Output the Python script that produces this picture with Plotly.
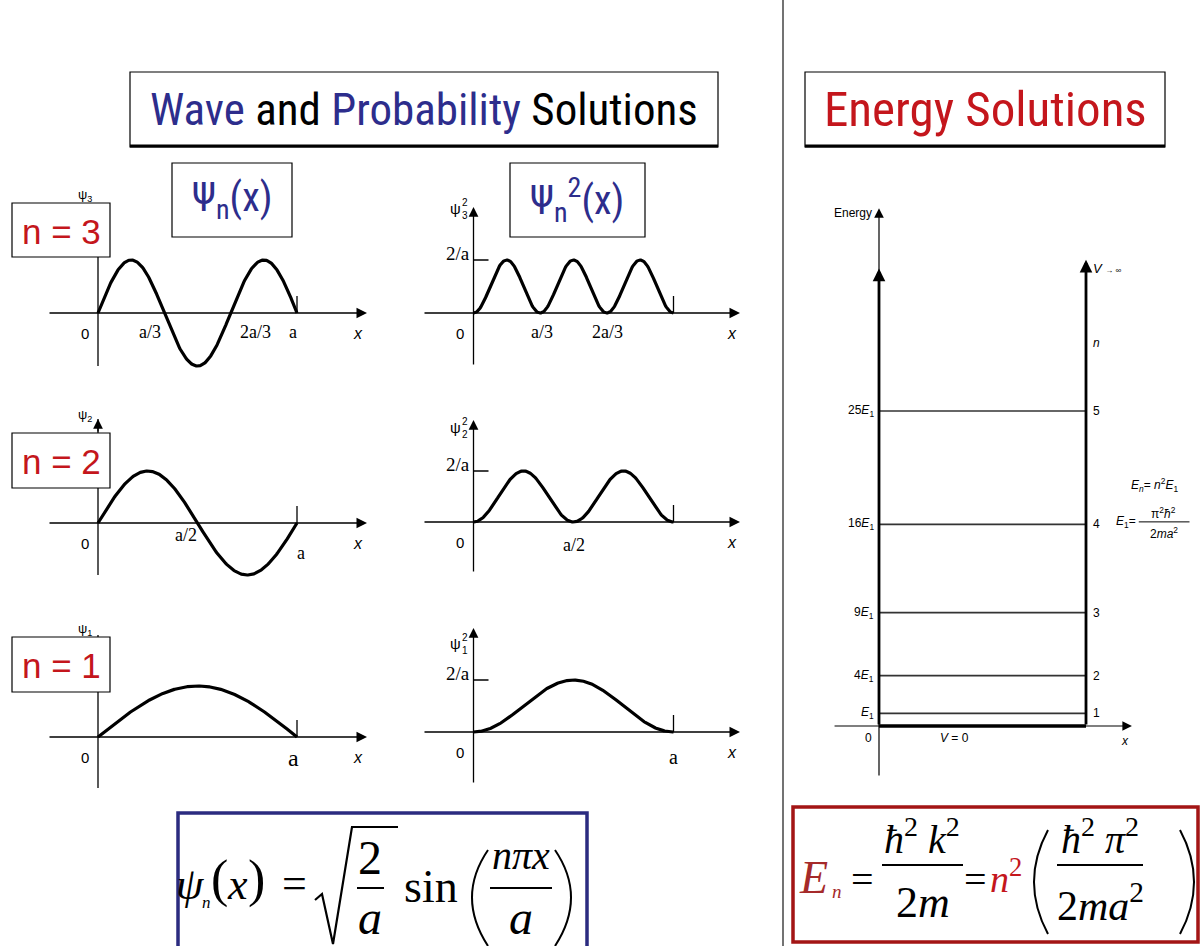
import numpy as np
import plotly.graph_objects as go

W, H = 1200, 946

# quantum numbers shown, top row first
STATES = [3, 2, 1]
# bound-state energies in units of E1 (E_n = n^2 E1)
LEVEL_N = [1, 2, 3, 4, 5]
LEVEL_E = [1, 4, 9, 16, 25]
LEVEL_LABELS = ["<i>E</i><sub>1</sub>", "4<i>E</i><sub>1</sub>", "9<i>E</i><sub>1</sub>",
                "16<i>E</i><sub>1</sub>", "25<i>E</i><sub>1</sub>"]
# x tick labels of each wave-function / probability panel
PSI_TICKS = {3: ["a/3", "2a/3", "a"], 2: ["a/2", "a"], 1: ["a"]}
PROB_TICKS = {3: ["a/3", "2a/3"], 2: ["a/2"], 1: ["a"]}
PEAK_LABEL = "2/a"

SANS = "Liberation Sans, Arial, sans-serif"
NARROW = "Roboto Condensed, Liberation Sans Narrow, Arial Narrow, sans-serif"
SERIF = "Liberation Serif, Times New Roman, serif"
BLUE = "#2d2d8c"
RED = "#c4161c"
DARKRED = "#a52a2a"

# panel placement: origin (px), px per a, px per unit amplitude
PSI_GEOM = {3: (98, 313, 199, 53), 2: (98, 523, 199, 52), 1: (98, 737, 199, 51)}
PROB_GEOM = {3: (473.5, 313, 200, 53), 2: (473.5, 522, 200, 51), 1: (473.5, 732, 200, 52)}
# tick label placement: (x in units of a, px below the axis)
PSI_TICK_POS = {3: [(0.26, 19), (0.79, 19), (0.98, 19)], 2: [(0.44, 12), (1.02, 30)], 1: [(0.98, 21)]}
PROB_TICK_POS = {3: [(0.34, 19), (0.67, 19)], 2: [(0.5, 23)], 1: [(1.0, 25)]}
PROB_LABEL_UP = {3: 105, 2: 95, 1: 89}
N_BOX = {3: (12, 203, 110, 257), 2: (12, 433, 110, 488), 1: (12, 637, 110, 692)}

fig = go.Figure()
annotations, shapes, axes = [], [], {}


def names(i):
    s = "" if i == 1 else str(i)
    return "x" + s, "y" + s, "xaxis" + s, "yaxis" + s


def set_axes(i, x0, x1, y0, y1, ox, oy, sx, sy):
    xr, yr, xk, yk = names(i)
    axes[xk] = dict(domain=[x0 / W, x1 / W], range=[(x0 - ox) / sx, (x1 - ox) / sx],
                    visible=False, fixedrange=True, anchor=yr)
    axes[yk] = dict(domain=[1 - y1 / H, 1 - y0 / H], range=[(oy - y1) / sy, (oy - y0) / sy],
                    visible=False, fixedrange=True, anchor=xr)
    return xr, yr


def text(x, y, s, xref="paper", yref="paper", size=16, color="black", family=SANS,
         xanchor="center", yanchor="middle"):
    if xref == "paper":
        x, y = x / W, 1 - y / H
    annotations.append(dict(x=x, y=y, xref=xref, yref=yref, text=s, showarrow=False,
                            font=dict(size=size, color=color, family=family),
                            xanchor=xanchor, yanchor=yanchor, borderpad=0))


def arrow(x0, y0, x1, y1, xref, yref, width=1.4, size=1.5, color="black"):
    annotations.append(dict(x=x1, y=y1, ax=x0, ay=y0, xref=xref, yref=yref, axref=xref,
                            ayref=yref, text="", showarrow=True, arrowhead=2, arrowsize=size,
                            arrowwidth=width, arrowcolor=color, standoff=0, startstandoff=0))


def seg(x0, y0, x1, y1, xref="paper", yref="paper", width=1.5, color="black", layer="above"):
    if xref == "paper":
        x0, x1, y0, y1 = x0 / W, x1 / W, 1 - y0 / H, 1 - y1 / H
    shapes.append(dict(type="line", x0=x0, y0=y0, x1=x1, y1=y1, xref=xref, yref=yref,
                       line=dict(color=color, width=width), layer=layer))


def rect(x0, y0, x1, y1, width=1.2, color="black", fill="white"):
    shapes.append(dict(type="rect", xref="paper", yref="paper", x0=x0 / W, x1=x1 / W,
                       y0=1 - y1 / H, y1=1 - y0 / H, line=dict(color=color, width=width),
                       fillcolor=fill, layer="above"))


def path(points, width=2.2, color="black"):
    d = " ".join(f"{cmd} {x / W:.5f},{1 - y / H:.5f}" for cmd, x, y in points)
    shapes.append(dict(type="path", xref="paper", yref="paper", path=d,
                       line=dict(color=color, width=width), layer="above"))


def line_trace(x, y, xr, yr, width, color="black"):
    fig.add_trace(go.Scatter(x=x, y=y, xaxis=xr, yaxis=yr, mode="lines",
                             line=dict(color=color, width=width), hoverinfo="skip",
                             showlegend=False))


xs = np.linspace(0, 1, 301)

# ---- wave functions psi_n(x) ----
for k, n in enumerate(STATES):
    ox, oy, sx, amp = PSI_GEOM[n]
    xr, yr = set_axes(k + 1, ox - 70, ox + 300, oy - 135, oy + 75, ox, oy, sx, amp)
    line_trace(xs, np.sin(n * np.pi * xs), xr, yr, 3.2)
    line_trace([0, 0], [-1, 2], xr, yr, 1.3)
    box_top = N_BOX[n][1]
    if oy - 2 * amp < box_top - 6:
        arrow(0, (oy - box_top) / amp, 0, 2, xr, yr, width=1.3)
    arrow(-50 / sx, 0, 269 / sx, 0, xr, yr)
    seg(1, 0, 1, 17 / amp, xr, yr, width=1.3)
    lab_y = min(oy - 2 * amp - 4, box_top - 8)
    text(-13 / sx, (oy - lab_y) / amp, f"ψ<sub>{n}</sub>", xr, yr, size=13, xanchor="center")
    text(-13 / sx, -20 / amp, "0", xr, yr, size=15)
    for lab, (tx, dy) in zip(PSI_TICKS[n], PSI_TICK_POS[n]):
        big = lab == "a" and n == 1
        text(tx, -dy / amp, lab, xr, yr, size=24 if big else 18, family=SERIF)
    text(260 / sx, -20 / amp, "<i>x</i>", xr, yr, size=16)

# ---- probability densities psi_n^2(x) ----
for k, n in enumerate(STATES):
    ox, oy, sx, amp = PROB_GEOM[n]
    xr, yr = set_axes(k + 4, ox - 70, ox + 300, oy - 135, oy + 75, ox, oy, sx, amp)
    line_trace(xs, np.sin(n * np.pi * xs) ** 2, xr, yr, 3.2)
    arrow(0, -1, 0, 2, xr, yr, width=1.3)
    arrow(-50.5 / sx, 0, 266.5 / sx, 0, xr, yr)
    seg(1, 0, 1, 17 / amp, xr, yr, width=1.3)
    seg(0, 1, 15 / sx, 1, xr, yr, width=1.3)
    text(-3 / sx, 1 + 7 / amp, PEAK_LABEL, xr, yr, size=19, family=SERIF, xanchor="right")
    up = PROB_LABEL_UP[n]
    text(-18 / sx, up / amp, "ψ", xr, yr, size=15)
    text(-9 / sx, (up + 6) / amp, "2", xr, yr, size=10)
    text(-9 / sx, (up - 7) / amp, str(n), xr, yr, size=10)
    text(-14 / sx, -20 / amp, "0", xr, yr, size=15)
    for lab, (tx, dy) in zip(PROB_TICKS[n], PROB_TICK_POS[n]):
        text(tx, -dy / amp, lab, xr, yr, size=20 if lab == "a" else 18, family=SERIF)
    text(258 / sx, -20 / amp, "<i>x</i>", xr, yr, size=16)

# ---- infinite square well energy levels ----
EX0, EY0, ESX, ESY = 879, 726, 207, 12.6
xr, yr = set_axes(7, 820, 1200, 190, 790, EX0, EY0, ESX, ESY)
lx, ly = [], []
for e in LEVEL_E:
    lx += [0, 1, None]
    ly += [e, e, None]
line_trace(lx, ly, xr, yr, 1.6, color="#333333")
line_trace([0, 1], [0, 0], xr, yr, 3.4)
arrow(0, -4.05, 0, 41.1, xr, yr, width=1.2, size=1.6)
arrow(-0.222, 0, 1.222, 0, xr, yr, width=1.2, size=1.6)
arrow(0, 0, 0, 36.3, xr, yr, width=2.8, size=0.9)
arrow(1, 0, 1, 37.0, xr, yr, width=2.8, size=0.9)
for n, e, lab in zip(LEVEL_N, LEVEL_E, LEVEL_LABELS):
    text(-0.02, e, lab, xr, yr, size=12, xanchor="right")
    text(1.03, e, str(n), xr, yr, size=12, xanchor="left")
text(-0.03, 40.7, "Energy", xr, yr, size=12, xanchor="right")
text(1.03, 30.4, "<i>n</i>", xr, yr, size=12, xanchor="left")
text(1.03, 36.3, "<i>V</i> <span style='font-size:8px'>→ ∞</span>", xr, yr, size=13, xanchor="left")
text(-0.053, -0.95, "0", xr, yr, size=12)
text(0.367, -0.95, "<i>V</i> = 0", xr, yr, size=12)
text(1.19, -1.2, "<i>x</i>", xr, yr, size=12)
text(1.33, 19.1, "<i>E<sub>n</sub></i>= <i>n</i><sup>2</sup><i>E</i><sub>1</sub>", xr, yr, size=12)
text(1.245, 16.2, "<i>E</i><sub>1</sub>=", xr, yr, size=12, xanchor="right")
text(1.375, 16.9, "π<sup>2</sup><i>ħ</i><sup>2</sup>", xr, yr, size=12)
seg(1.255, 16.2, 1.5, 16.2, xr, yr, width=1.0)
text(1.375, 15.3, "2<i>ma</i><sup>2</sup>", xr, yr, size=12)

# ---- divider and headings ----
seg(783, 0, 783, H, width=1.5, color="#444444", layer="below")
rect(130, 72, 718, 147)
seg(130, 146, 718, 146, width=3)
text(424, 110, f"<span style='color:{BLUE}'>Wave</span> and "
     f"<span style='color:{BLUE}'>Probability</span> Solutions", size=45, family=NARROW)
rect(805, 72, 1165, 147)
seg(805, 146, 1165, 146, width=3)
text(985, 110, "Energy Solutions", size=49, family=NARROW, color=RED)
rect(172, 163, 292, 237)
text(232, 200, "Ψ<sub>n</sub>(x)", size=40, family=NARROW, color=BLUE)
rect(510, 163, 645, 237)
text(577, 200, "Ψ<sub>n</sub><sup>2</sup>(x)", size=40, family=NARROW, color=BLUE)
for n in STATES:
    x0, y0, x1, y1 = N_BOX[n]
    rect(x0, y0, x1, y1)
    text((x0 + x1) / 2, (y0 + y1) / 2 + 1, f"n = {n}", size=35, color=RED)

# ---- wave-function formula ----
rect(178, 813, 587, 960, width=3.5, color="#2b2b80", fill="rgba(0,0,0,0)")
text(190, 884, "<i>ψ</i>", size=44, family=SERIF)
text(207, 902, "<i>n</i>", size=17, family=SERIF)
text(219, 879, "(", size=52, family=SERIF)
text(237, 884, "<i>x</i>", size=44, family=SERIF)
text(256, 879, ")", size=52, family=SERIF)
text(294, 883, "=", size=44, family=SERIF)
path([("M", 315, 900), ("L", 322, 894), ("L", 333, 944), ("L", 352, 827), ("L", 398, 827)], width=2.2)
text(370, 857, "2", size=48, family=SERIF)
seg(357, 888, 384, 888, width=2)
text(370, 917, "<i>a</i>", size=48, family=SERIF)
text(431, 886, "sin", size=46, family=SERIF)
path([("M", 488, 850), ("Q", 456, 897), ("", 488, 946)], width=2)
text(521, 855, "<i>nπx</i>", size=40, family=SERIF)
seg(490, 888, 552, 888, width=2)
text(521, 917, "<i>a</i>", size=48, family=SERIF)
path([("M", 555, 850), ("Q", 587, 897), ("", 555, 946)], width=2)

# ---- energy formula ----
rect(793, 807, 1198, 942, width=3.5, color="#a31515", fill="rgba(0,0,0,0)")
text(813, 877, "<i>E</i>", size=46, family=SERIF, color=DARKRED)
text(837, 891, "<i>n</i>", size=19, family=SERIF, color=DARKRED)
text(862, 879, "=", size=40, family=SERIF)
text(922, 836, "<i>ħ</i><sup>2</sup> <i>k</i><sup>2</sup>", size=40, family=SERIF)
seg(882, 865, 963, 865, width=2)
text(923, 902, "2<i>m</i>", size=44, family=SERIF)
text(975, 879, "=", size=40, family=SERIF)
text(1006, 876, "<i>n</i><sup>2</sup>", size=38, family=SERIF, color=RED)
path([("M", 1048, 830), ("Q", 1020, 882), ("", 1048, 934)], width=2)
text(1100, 836, "<i>ħ</i><sup>2</sup> <i>π</i><sup>2</sup>", size=40, family=SERIF)
seg(1057, 865, 1143, 865, width=2)
text(1100, 902, "2<i>ma</i><sup>2</sup>", size=42, family=SERIF)
path([("M", 1180, 830), ("Q", 1208, 882), ("", 1180, 934)], width=2)

fig.update_layout(width=W, height=H, margin=dict(l=0, r=0, t=0, b=0),
                  paper_bgcolor="white", plot_bgcolor="rgba(0,0,0,0)",
                  showlegend=False, annotations=annotations, shapes=shapes, **axes)
fig.write_html("out.html", config={"displayModeBar": False})
